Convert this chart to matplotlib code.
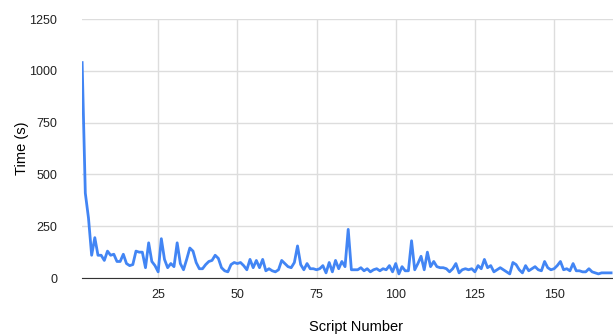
import matplotlib
matplotlib.use("Agg")
import matplotlib.pyplot as plt
import numpy as np

plt.rcParams['font.family'] = ['Liberation Sans', 'DejaVu Sans']

times = [1040, 410, 290, 110, 195, 110, 110, 85, 130, 110,
         115, 80, 80, 115, 70, 60, 65, 130, 125, 125,
         50, 170, 80, 60, 30, 190, 90, 50, 70, 55,
         170, 70, 40, 90, 145, 130, 75, 45, 45, 65,
         80, 85, 110, 95, 50, 35, 30, 65, 75, 70,
         75, 60, 40, 90, 50, 85, 50, 90, 35, 45,
         35, 30, 40, 85, 70, 55, 50, 75, 155, 65,
         40, 70, 45, 45, 40, 45, 60, 25, 75, 30,
         85, 45, 80, 55, 235, 40, 40, 40, 50, 35,
         45, 30, 40, 45, 35, 45, 40, 60, 30, 70,
         20, 55, 35, 35, 180, 40, 70, 105, 40, 125,
         55, 80, 55, 50, 50, 45, 30, 45, 70, 25,
         40, 45, 40, 45, 30, 60, 45, 90, 50, 60,
         30, 40, 50, 40, 30, 20, 75, 65, 40, 25,
         60, 35, 45, 55, 40, 35, 80, 50, 40, 45,
         60, 80, 40, 45, 35, 70, 35, 35, 30, 30,
         45, 30, 25, 20, 25, 25, 25, 25]
script_no = np.arange(1, len(times) + 1)

fig = plt.figure(figsize=(6.13, 3.35), dpi=100)
ax = fig.add_axes([0.134, 0.170, 0.866, 0.773])
ax.plot(script_no, times, color='#4285F4', lw=2)

ax.set_xlim(1, 168.6)
ax.set_ylim(0, 1250)
ax.set_xticks([25, 50, 75, 100, 125, 150])
ax.set_yticks([0, 250, 500, 750, 1000, 1250])
ax.grid(True, color='#dddddd', lw=1)
ax.set_axisbelow(True)
for s in ['top', 'right', 'left']:
    ax.spines[s].set_visible(False)
ax.spines['bottom'].set_color('#333333')
ax.tick_params(length=0, labelsize=9, colors='#222222', pad=8)
ax.tick_params(axis='y', pad=18)
ax.set_xlabel('Script Number', fontsize=10.5, va='center')
ax.xaxis.set_label_coords(0.515, -0.189)
ax.set_ylabel('Time (s)', fontsize=10.5, va='center')
ax.yaxis.set_label_coords(-0.113, 0.5)

fig.savefig('out.png', dpi=100)
